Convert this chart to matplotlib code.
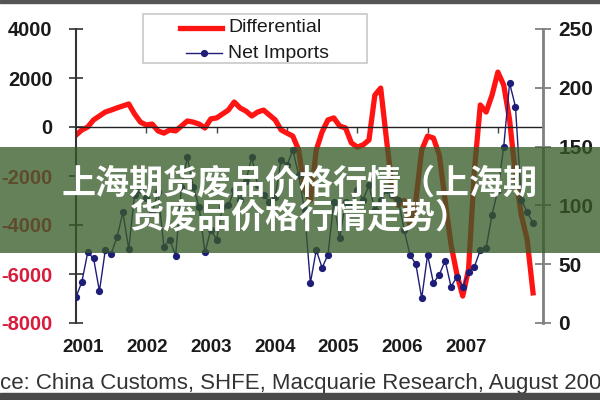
import numpy as np
import matplotlib
matplotlib.use('Agg')
import matplotlib.pyplot as plt
from matplotlib.patches import Rectangle
from matplotlib.lines import Line2D
from matplotlib.transforms import blended_transform_factory

plt.rcParams['font.family'] = ['Liberation Sans', 'DejaVu Sans']
plt.rcParams['axes.unicode_minus'] = False

#_____________________________________________________________________
# Data, monthly Jan 2001 - Jul 2007
differential = [-330, -120, 0, 290, 450, 610, 690, 780, 860, 940,
                530, 200, 80, 120, -160, -250, -120, -160, 40, 245,
                200, 120, -40, 330, 370, 530, 690, 1020, 780, 650,
                450, 610, 690, 490, 290, -120, -250, -370, -940, -2570,
                -3000, -940, -200, 290, 370, 40, -40, -650, -820, -730,
                -530, 1300, 1590, -530, -2570, -3200, -3000, -4000, -3000, -940,
                -370, -450, -1140, -3000, -4800, -6000, -6900, -5800, -1750, 900,
                610, 1300, 2240, 1710, 290, -1960, -3600, -4600, -6770]

net_imports = [22, 35, 60, 55, 27, 62, 59, 73, 94, 63,
               109, 113, 106, 94, 111, 65, 71, 57, 116, 141,
               116, 99, 60, 79, 71, 99, 100, 113, 105, 121,
               141, 117, 109, 103, 107, 139, 134, 147, 126, 96,
               34, 62, 47, 58, 103, 72, 103, 100, 113, 105,
               117, 96, 105, 113, 109, 105, 79, 58, 50, 21,
               58, 34, 41, 53, 31, 39, 31, 43, 48, 62,
               64, 92, 113, 150, 204, 184, 105, 94, 85]

years = ['2001', '2002', '2003', '2004', '2005', '2006', '2007']
left_ticks = [-8000, -6000, -4000, -2000, 0, 2000, 4000]
right_ticks = [0, 50, 100, 150, 200, 250]
source = 'ce: China Customs, SHFE, Macquarie Research, August 200'
title_1 = '上海期货废品价格行情（上海期'
title_2 = '货废品价格行情走势）'
#_____________________________________________________________________

months = np.arange(len(differential))

fig = plt.figure(figsize=(6, 4), dpi=100)
fig.patch.set_facecolor('white')
ax = fig.add_axes([76/600, 1-323/400, (543-76)/600, (323-29)/400])
ax2 = ax.twinx()

ax.plot(months, differential, color='#ff1414', lw=3.8, solid_joinstyle='round')
ax2.plot(months, net_imports, color='#1e1e78', lw=1.0, marker='o', ms=4.2)

ax.set_xlim(0, 79.7)
ax.set_ylim(-8000, 4000)
ax2.set_ylim(0, 250)

# left axis
ax.set_yticks(left_ticks)
ax.set_yticklabels([str(v) for v in left_ticks])
ax.tick_params(axis='y', direction='inout', length=10, width=1.2, pad=12,
               labelsize=14.5, colors='#333333')
for lab, v in zip(ax.get_yticklabels(), left_ticks):
    lab.set_fontweight('bold')
    lab.set_color('#d81c3c' if v < 0 else '#1a1a1a')

# zero line as the x axis
ax.spines['bottom'].set_position(('data', 0))
ax.spines['bottom'].set_color('#222222')
ax.spines['bottom'].set_linewidth(1.0)
ax.set_xticks([12, 24, 36, 48, 60, 72])
ax.set_xticklabels([])
ax.tick_params(axis='x', direction='out', length=4, width=1, colors='#444444')
ax.spines['top'].set_visible(False)
ax.spines['right'].set_visible(False)
ax.spines['left'].set_color('#333333')
ax.spines['left'].set_linewidth(1.5)

# right axis
ax2.set_yticks(right_ticks)
ax2.set_yticklabels([str(v) for v in right_ticks])
ax2.tick_params(axis='y', direction='inout', length=12, width=1.2, pad=5,
                labelsize=15, colors='#777777', labelcolor='#1a1a1a')
for lab in ax2.get_yticklabels():
    lab.set_fontweight('bold')
for s in ['top', 'bottom', 'left']:
    ax2.spines[s].set_visible(False)
ax2.spines['right'].set_color('#808080')
ax2.spines['right'].set_linewidth(2)

# year labels
tr = blended_transform_factory(ax.transData, fig.transFigure)
for k, yr in enumerate(years):
    ax.text(1.2 + 10.9*k, 1-347/400, yr, transform=tr, ha='center', va='center',
            fontsize=13.5, fontweight='bold', color='#1a1a1a')

# legend box
fig.add_artist(Rectangle((143/600, 1-63/400), 224/600, 49/400, transform=fig.transFigure,
                         facecolor='white', edgecolor='#c8c8c8', lw=1.2, zorder=3))
fig.add_artist(Line2D([180/600, 222/600], [1-28/400]*2, transform=fig.transFigure,
                      color='#ff1414', lw=3.8, zorder=4))
fig.add_artist(Line2D([186/600, 222/600], [1-53/400]*2, transform=fig.transFigure,
                      color='#1e1e78', lw=1.0, zorder=4))
fig.add_artist(Line2D([204/600], [1-53/400], transform=fig.transFigure,
                      color='#1e1e78', marker='o', ms=4.2, zorder=4))
fig.text(228/600, 1-28/400, 'Differential', va='center', fontsize=14, color='#1a1a1a', zorder=4)
fig.text(228/600, 1-53/400, 'Net Imports', va='center', fontsize=14, color='#1a1a1a', zorder=4)

# source
fig.text(0.0, 1-383/400, source, ha='left', va='center', fontsize=16, color='#333333')

# frame lines
fig.add_artist(Rectangle((0, 1-3/400), 1, 3/400, transform=fig.transFigure,
                         color='#555555', zorder=5))
fig.add_artist(Rectangle((0, 0), 1, 7/400, transform=fig.transFigure,
                         color='#4a4a4a', zorder=5))

# overlay band with title
fig.add_artist(Rectangle((0, 1-253/400), 1, (253-147)/400, transform=fig.transFigure,
                         facecolor=(55/255, 91/255, 40/255), alpha=0.77, lw=0, zorder=10))
cjk = ['Noto Sans CJK SC', 'DejaVu Sans']
fig.text(0.5, 1-183/400, title_1, ha='center', va='center', color='white',
         fontsize=24.5, fontweight='bold', family=cjk, zorder=11)
fig.text(0.5, 1-217/400, title_2, ha='center', va='center', color='white',
         fontsize=24.5, fontweight='bold', family=cjk, zorder=11)

fig.savefig('out.png', dpi=100)
